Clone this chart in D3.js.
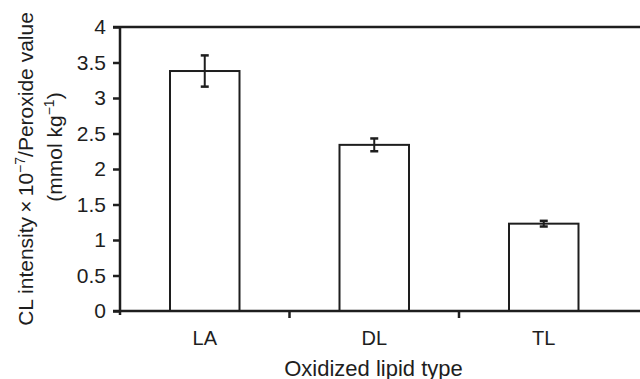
<!DOCTYPE html>
<html>
<head>
<meta charset="utf-8">
<script src="https://cdn.jsdelivr.net/npm/d3@7"></script>
<style>
  body { margin: 0; background: #fff; }
  svg { display: block; font-family: "Liberation Sans", Arial, sans-serif; }
</style>
</head>
<body>
<svg id="chart" width="640" height="379"></svg>
<script>
// values
const categories = ["LA", "DL", "TL"]
const values = [3.38, 2.34, 1.23]
const errors = [0.22, 0.09, 0.04]
const yTicks = [0, 0.5, 1, 1.5, 2, 2.5, 3, 3.5, 4]

const ink = "#1e1e1e"
const layout = {left: 120, right: 628.5, top: 27, bottom: 311, frameRight: 640}

const svg = d3.select("#chart")

const x = d3.scaleBand()
            .domain(categories)
            .range([layout.left, layout.right])
            .padding(0)

const y = d3.scaleLinear()
            .domain([0, 4])
            .range([layout.bottom, layout.top])

const barWidth = x.bandwidth() * 0.41

// bars
svg.append("g")
   .selectAll("rect")
   .data(categories)
   .join("rect")
   .attr("x", d => x(d) + x.bandwidth() / 2 - barWidth / 2)
   .attr("width", barWidth)
   .attr("y", (d, i) => y(values[i]))
   .attr("height", (d, i) => y(0) - y(values[i]))
   .attr("fill", "#fff")
   .attr("stroke", ink)
   .attr("stroke-width", 2)

// error bars
const err = svg.append("g")
               .attr("stroke", ink)
               .attr("stroke-width", 2)
categories.forEach((c, i) => {
  const cx = x(c) + x.bandwidth() / 2
  const hi = y(values[i] + errors[i])
  const lo = y(values[i] - errors[i])
  err.append("line").attr("x1", cx).attr("x2", cx).attr("y1", hi).attr("y2", lo)
  err.append("line").attr("x1", cx - 4).attr("x2", cx + 4).attr("y1", hi).attr("y2", hi).attr("stroke-width", 2.5)
  err.append("line").attr("x1", cx - 4).attr("x2", cx + 4).attr("y1", lo).attr("y2", lo).attr("stroke-width", 2.5)
})

// top frame line
svg.append("line")
   .attr("x1", layout.left - 7).attr("x2", layout.frameRight)
   .attr("y1", y(4)).attr("y2", y(4))
   .attr("stroke", ink).attr("stroke-width", 2.5)

// x axis line with ticks between categories
svg.append("line")
   .attr("x1", layout.left - 7).attr("x2", layout.frameRight)
   .attr("y1", y(0)).attr("y2", y(0))
   .attr("stroke", ink).attr("stroke-width", 2.5)

svg.append("g")
   .selectAll("line")
   .data(categories.slice(0, -1))
   .join("line")
   .attr("x1", d => x(d) + x.bandwidth())
   .attr("x2", d => x(d) + x.bandwidth())
   .attr("y1", y(0))
   .attr("y2", y(0) + 7)
   .attr("stroke", ink)
   .attr("stroke-width", 2.5)

const xAxis = svg.append("g")
                 .attr("transform", `translate(0, ${y(0)})`)
                 .call(d3.axisBottom(x).tickSize(0).tickPadding(20))
xAxis.select(".domain").remove()
xAxis.selectAll("text")
     .attr("fill", ink)
     .style("font-size", "20px")
     .style("font-family", "Liberation Sans, Arial, sans-serif")

// y axis
const yAxis = svg.append("g")
                 .attr("transform", `translate(${layout.left}, 0)`)
                 .call(d3.axisLeft(y).tickValues(yTicks).tickFormat(d => String(d)).tickSize(7).tickSizeOuter(0).tickPadding(7))
yAxis.select(".domain")
     .attr("stroke", ink)
     .attr("stroke-width", 2.5)
     .attr("d", `M0,${y(4)}V${y(0) + 4}`)
yAxis.selectAll(".tick line")
     .attr("stroke", ink)
     .attr("stroke-width", 2.5)
yAxis.selectAll("text")
     .attr("fill", ink)
     .style("font-size", "21px")
     .style("font-family", "Liberation Sans, Arial, sans-serif")

// axis titles
svg.append("text")
   .attr("x", 373.5)
   .attr("y", 376)
   .attr("text-anchor", "middle")
   .attr("fill", ink)
   .style("font-size", "22px")
   .text("Oxidized lipid type")

const t1 = svg.append("text")
              .attr("transform", "translate(33, 169) rotate(-90)")
              .attr("text-anchor", "middle")
              .attr("fill", ink)
              .style("font-size", "21px")
t1.append("tspan").text("CL intensity\u2009\u00d7\u200910")
t1.append("tspan").attr("dy", -8).style("font-size", "14px").text("\u22127")
t1.append("tspan").attr("dy", 8).text("/Peroxide value")

const t2 = svg.append("text")
              .attr("transform", "translate(62, 147) rotate(-90)")
              .attr("text-anchor", "middle")
              .attr("fill", ink)
              .style("font-size", "21px")
t2.append("tspan").text("(mmol kg")
t2.append("tspan").attr("dy", -8).style("font-size", "14px").text("\u22121")
t2.append("tspan").attr("dy", 8).text(")")
</script>
</body>
</html>
